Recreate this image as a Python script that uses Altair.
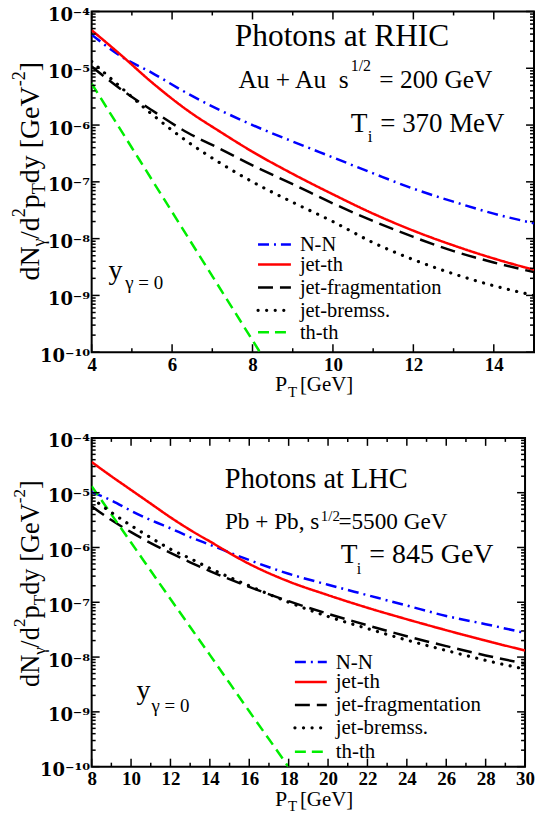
import altair as alt
import pandas as pd

# ---------------- data (log10 of dN/d2pTdy) ----------------
series = ["N-N", "jet-th", "jet-fragmentation", "jet-bremss.", "th-th"]
colors = ["#0000ff", "#ff0000", "#000000", "#000000", "#00ee00"]
dashes = [[11, 5, 2, 5], [1, 0], [15, 7], [0.1, 8.5], [11, 6]]

# RHIC panel
top_x = [4, 4.75, 5.5, 6.4, 7.2, 8, 9, 10, 11, 12, 13, 14, 15]
top_nn_log = [-4.41, -4.80, -5.08, -5.45, -5.74, -6.00, -6.29, -6.57, -6.85, -7.12, -7.35, -7.56, -7.73]
top_jetth_log = [-4.33, -4.78, -5.25, -5.75, -6.12, -6.47, -6.86, -7.22, -7.56, -7.86, -8.12, -8.35, -8.55]
top_frag_log = [-4.97, -5.38, -5.74, -6.14, -6.42, -6.71, -7.04, -7.38, -7.69, -7.97, -8.22, -8.42, -8.59]
top_brem_log = [-4.88, -5.35, -5.81, -6.30, -6.67, -7.00, -7.36, -7.70, -8.07, -8.37, -8.62, -8.83, -9.00]
top_thth_x = [4, 5, 6, 7, 8, 8.3]
top_thth_log = [-5.27, -6.40, -7.53, -8.66, -9.79, -10.13]
top_xlabels = [4, 6, 8, 10, 12, 14]
top_xminor = [5, 7, 9, 11, 13]

# LHC panel
bot_x = [8, 9, 10, 11, 12, 13, 14, 16, 18, 20, 22, 24, 26, 28, 30]
bot_nn_log = [-4.99, -5.14, -5.33, -5.50, -5.65, -5.81, -5.95, -6.23, -6.48, -6.68, -6.87, -7.06, -7.25, -7.40, -7.56]
bot_jetth_log = [-4.44, -4.70, -4.95, -5.20, -5.45, -5.68, -5.89, -6.30, -6.62, -6.87, -7.10, -7.31, -7.51, -7.70, -7.88]
bot_frag_log = [-5.25, -5.50, -5.72, -5.92, -6.10, -6.27, -6.43, -6.72, -6.98, -7.21, -7.42, -7.62, -7.80, -7.97, -8.12]
bot_brem_log = [-5.10, -5.36, -5.60, -5.82, -6.03, -6.20, -6.38, -6.70, -7.00, -7.26, -7.48, -7.69, -7.88, -8.06, -8.22]
bot_thth_x = [8, 10, 12, 14, 16, 18, 18.4]
bot_thth_log = [-4.88, -5.91, -6.94, -7.96, -8.99, -10.01, -10.22]
bot_xlabels = [8, 10, 12, 14, 16, 18, 20, 22, 24, 26, 28, 30]
bot_xminor = [9, 11, 13, 15, 17, 19, 21, 23, 25, 27, 29]

y_decades = [1e-10, 1e-9, 1e-8, 1e-7, 1e-6, 1e-5, 1e-4]
y_minor = [k * d for d in y_decades[:-1] for k in range(2, 10)]

# y-axis title pieces: (text, role)
ytitle_pieces = [("dN", "n"), ("γ", "sub"), ("/d", "n"), ("2", "sup"), ("p", "n"),
                 ("T", "sub"), ("dy [GeV", "n"), ("-2", "sup"), ("]", "n")]

SERIF = "'Times New Roman', 'Liberation Serif', Times, serif"
LABEL_EXPR = ("'10' + ['⁻¹⁰','⁻⁹','⁻⁸','⁻⁷','⁻⁶','⁻⁵','⁻⁴']"
              "[round(log(datum.value)/LN10) + 10]")
# approximate Times advance widths (em) used to chain the title pieces
TW = {"d": .5, "N": .722, "/": .278, "p": .5, "y": .5, " ": .25, "[": .333, "G": .722,
      "e": .444, "V": .722, "]": .333, "-": .333, "2": .5, "γ": .41, "T": .611}


def txt(text, x, y, size, align="left", angle=0):
    return alt.Chart(alt.Data(values=[{"t": text}])).mark_text(
        align=align, baseline="alphabetic", font=SERIF, fontSize=size, color="black",
        angle=angle
    ).encode(x=alt.value(x), y=alt.value(y), text="t:N")


def ytitle_layers(base_x, start_y, size):
    out, cum = [], 0.0
    small = size * 0.65
    for text, role in ytitle_pieces:
        fs = size if role == "n" else small
        dx = {"n": 0, "sub": 6, "sup": -14}[role]
        out.append(txt(text, base_x + dx, start_y - cum, fs, angle=270))
        cum += sum(TW.get(c, .5) for c in text) * fs
    return out


def panel(W, H, xdom, xs_main, logs, th_x, th_log, xlabels, xminor, title_start,
          ytitle_size, texts, leg_x0, leg_x1, leg_tx, leg_rows, leg_size):
    rows = []
    for name, ls in zip(series[:4], logs):
        for x, l in zip(xs_main, ls):
            rows.append({"x": x, "y": 10 ** l, "series": name})
    for x, l in zip(th_x, th_log):
        rows.append({"x": x, "y": 10 ** l, "series": "th-th"})
    df = pd.DataFrame(rows)

    xscale = alt.Scale(domain=xdom, nice=False, zero=False)
    yscale = alt.Scale(type="log", domain=[1e-10, 1e-4], nice=False)
    xaxis = alt.Axis(values=xlabels, ticks=False, domain=False, grid=False, title=None,
                     labelFont=SERIF, labelFontWeight="bold", labelFontSize=19,
                     labelColor="black", labelPadding=3, labelFlush=False, labelOverlap=False)
    yaxis = alt.Axis(values=y_decades, ticks=False, domain=False, grid=False, title=None,
                     labelExpr=LABEL_EXPR, labelFont="DejaVu Serif", labelFontWeight="bold",
                     labelFontSize=18, labelColor="black", labelPadding=2, labelOffset=4,
                     labelFlush=False, labelOverlap=False)
    X = alt.X("x:Q", scale=xscale, axis=xaxis)
    Y = alt.Y("y:Q", scale=yscale, axis=yaxis)

    color = alt.Color("series:N", scale=alt.Scale(domain=series, range=colors), legend=None)
    dash = alt.StrokeDash("series:N", scale=alt.Scale(domain=series, range=dashes), legend=None)

    solid_like = alt.Chart(df).transform_filter(
        alt.datum.series != "jet-bremss."
    ).mark_line(clip=True, strokeWidth=2.5, interpolate="monotone").encode(
        x=X, y=Y, color=color, strokeDash=dash)
    dotted = alt.Chart(df).transform_filter(
        alt.datum.series == "jet-bremss."
    ).mark_line(clip=True, strokeWidth=3.2, strokeCap="round", interpolate="monotone").encode(
        x=X, y=Y, color=color, strokeDash=dash)

    layers = [solid_like, dotted]
    # inward ticks on all four sides
    for vals, ln in ((xlabels, 8), (xminor, 4)):
        d = pd.DataFrame({"x": vals})
        layers.append(alt.Chart(d).mark_rule(color="black", strokeWidth=1.5).encode(
            x=X, y=alt.value(H), y2=alt.value(H - ln)))
        layers.append(alt.Chart(d).mark_rule(color="black", strokeWidth=1.5).encode(
            x=X, y=alt.value(0), y2=alt.value(ln)))
    for vals, ln in ((y_decades, 8), (y_minor, 4)):
        d = pd.DataFrame({"y": vals})
        layers.append(alt.Chart(d).mark_rule(color="black", strokeWidth=1.5).encode(
            y=Y, x=alt.value(0), x2=alt.value(ln)))
        layers.append(alt.Chart(d).mark_rule(color="black", strokeWidth=1.5).encode(
            y=Y, x=alt.value(W), x2=alt.value(W - ln)))

    # legend
    for i, name in enumerate(series):
        ry = leg_rows[i]
        dotted_row = name == "jet-bremss."
        layers.append(alt.Chart(alt.Data(values=[{"a": 1}])).mark_rule(
            color=colors[i], strokeDash=dashes[i],
            strokeWidth=3.2 if dotted_row else 2.5,
            strokeCap="round" if dotted_row else "butt").encode(
            x=alt.value(leg_x0), x2=alt.value(leg_x1), y=alt.value(ry)))
        layers.append(txt(name, leg_tx, ry + 6.5, leg_size))

    for t in texts:
        layers.append(txt(*t))

    # axis titles
    layers += ytitle_layers(-53, title_start, ytitle_size)
    layers.append(txt("P", 184, H + 39, 22))
    layers.append(txt("T", 197, H + 45, 15))
    layers.append(txt("[GeV]", 209, H + 39, 21))

    return alt.layer(*layers).properties(width=W, height=H)


top_texts = [
    ("Photons at RHIC", 143.7, 35, 31.5),
    ("Au + Au\u00a0\u00a0s", 258, 77, 25.5, "right"),
    ("1/2", 260, 60, 16),
    ("= 200 GeV", 288.7, 77, 25.5),
    ("T", 260, 121, 27.5),
    ("i", 277, 131, 17),
    ("= 370 MeV", 289.7, 121, 27),
    ("y", 17, 269, 28),
    ("γ = 0", 33.7, 279, 19),
]
bot_texts = [
    ("Photons at LHC", 133.7, 50, 28.5),
    ("Pb + Pb, s", 228.5, 91.7, 23.3, "right"),
    ("1/2", 230, 83, 15),
    ("=5500 GeV", 247.7, 91.7, 23.3),
    ("T", 250, 125.7, 27.5),
    ("i", 266, 136.7, 16),
    ("= 845 GeV", 278.7, 125.7, 28),
    ("y", 45, 261.7, 28),
    ("γ = 0", 60, 275, 19),
]

top = panel(444, 342, [4, 15], top_x,
            [top_nn_log, top_jetth_log, top_frag_log, top_brem_log],
            top_thth_x, top_thth_log, top_xlabels, top_xminor, 270, 28,
            top_texts, 167, 200, 209, [234, 254, 277, 300, 322], 20.5)
bot = panel(435, 330, [8, 30], bot_x,
            [bot_nn_log, bot_jetth_log, bot_frag_log, bot_brem_log],
            bot_thth_x, bot_thth_log, bot_xlabels, bot_xminor, 250, 26.5,
            bot_texts, 204, 236, 245, [225, 245, 268, 291, 315], 21)

chart = alt.vconcat(top, bot, spacing=86, bounds="flush").properties(
    padding={"left": 9, "top": 4, "right": 0, "bottom": 0}
).configure_view(stroke="black", strokeWidth=2)

chart.save("out.html", embed_options={"renderer": "svg", "actions": False})
